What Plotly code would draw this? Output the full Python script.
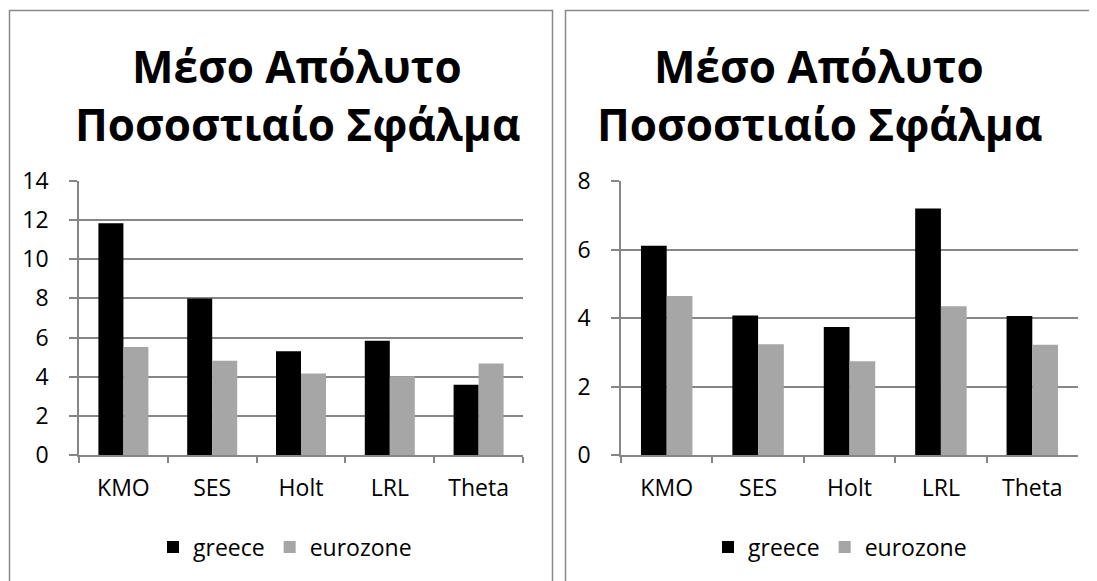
import plotly.graph_objects as go

categories = ["KMO", "SES", "Holt", "LRL", "Theta"]
left_greece = [11.84, 7.99, 5.30, 5.84, 3.59]
left_eurozone = [5.52, 4.82, 4.17, 4.02, 4.67]
right_greece = [6.11, 4.07, 3.74, 7.20, 4.06]
right_eurozone = [4.64, 3.23, 2.74, 4.34, 3.22]
title_line1 = "Μέσο Απόλυτο"
title_line2 = "Ποσοστιαίο Σφάλμα"
series_names = ["greece", "eurozone"]
series_colors = ["#000000", "#a6a6a6"]

W, H = 1097, 581
OFF = 8  # page body offset
FONT = "Open Sans"
GRID = "#868686"

def px(x):
    return (x - OFF) / W

def py(y):
    return 1 - (y - OFF) / H

fig = go.Figure()
for name, vals, col in zip(series_names, [left_greece, left_eurozone], series_colors):
    fig.add_trace(go.Bar(x=categories, y=vals, name=name, marker=dict(color=col, line=dict(width=0)),
                         xaxis="x", yaxis="y", legend="legend"))
for name, vals, col in zip(series_names, [right_greece, right_eurozone], series_colors):
    fig.add_trace(go.Bar(x=categories, y=vals, name=name, marker=dict(color=col, line=dict(width=0)),
                         xaxis="x2", yaxis="y2", legend="legend2"))

ydom = [py(455), py(181)]
common_x = dict(showline=True, linecolor=GRID, linewidth=1.5, ticks="outside", tickson="boundaries",
                ticklen=6, tickcolor=GRID, tickwidth=1.5, showgrid=False, automargin=False,
                tickfont=dict(family=FONT, size=23, color="#000"), ticklabelstandoff=12)
common_y = dict(showline=True, linecolor=GRID, linewidth=1.5, ticks="outside", ticklen=8,
                tickcolor=GRID, tickwidth=1.5, showgrid=True, gridcolor=GRID, gridwidth=1.5,
                zeroline=False, dtick=2, automargin=False,
                tickfont=dict(family=FONT, size=23, color="#000"), ticklabelstandoff=16)

fig.update_layout(
    width=W, height=H, margin=dict(l=0, r=0, t=0, b=0, autoexpand=False),
    paper_bgcolor="white", plot_bgcolor="white",
    barmode="group", bargap=0.437, bargroupgap=0,
    font=dict(family=FONT, color="#000"),
    xaxis=dict(domain=[px(79), px(523)], anchor="y", **common_x),
    yaxis=dict(domain=ydom, anchor="x", range=[0, 14], **common_y),
    xaxis2=dict(domain=[px(621), px(1078)], anchor="y2", **common_x),
    yaxis2=dict(domain=ydom, anchor="x2", range=[0, 8], **common_y),
    legend=dict(orientation="h", x=px(285), y=py(547), xanchor="center", yanchor="middle",
                font=dict(family=FONT, size=23, color="#000"), bgcolor="rgba(0,0,0,0)"),
    legend2=dict(orientation="h", x=px(840), y=py(547), xanchor="center", yanchor="middle",
                 font=dict(family=FONT, size=23, color="#000"), bgcolor="rgba(0,0,0,0)"),
    showlegend=True,
)

# panel borders
fig.add_shape(type="rect", xref="paper", yref="paper", x0=px(9.5), x1=px(552.5), y0=py(600), y1=py(10.5),
              line=dict(color="#898989", width=1.5), layer="below")
fig.add_shape(type="rect", xref="paper", yref="paper", x0=px(565.5), x1=px(1120), y0=py(600), y1=py(10.5),
              line=dict(color="#898989", width=1.5), layer="below")

for cx in [297, 819]:
    fig.add_annotation(text=title_line1, xref="paper", yref="paper", x=px(cx), y=py(66),
                       xanchor="center", yanchor="middle", showarrow=False,
                       font=dict(family=FONT, size=44, color="#000", weight="bold"))
    fig.add_annotation(text=title_line2, xref="paper", yref="paper", x=px(cx), y=py(124),
                       xanchor="center", yanchor="middle", showarrow=False,
                       font=dict(family=FONT, size=44, color="#000", weight="bold"))

fig.write_html("out.html")
